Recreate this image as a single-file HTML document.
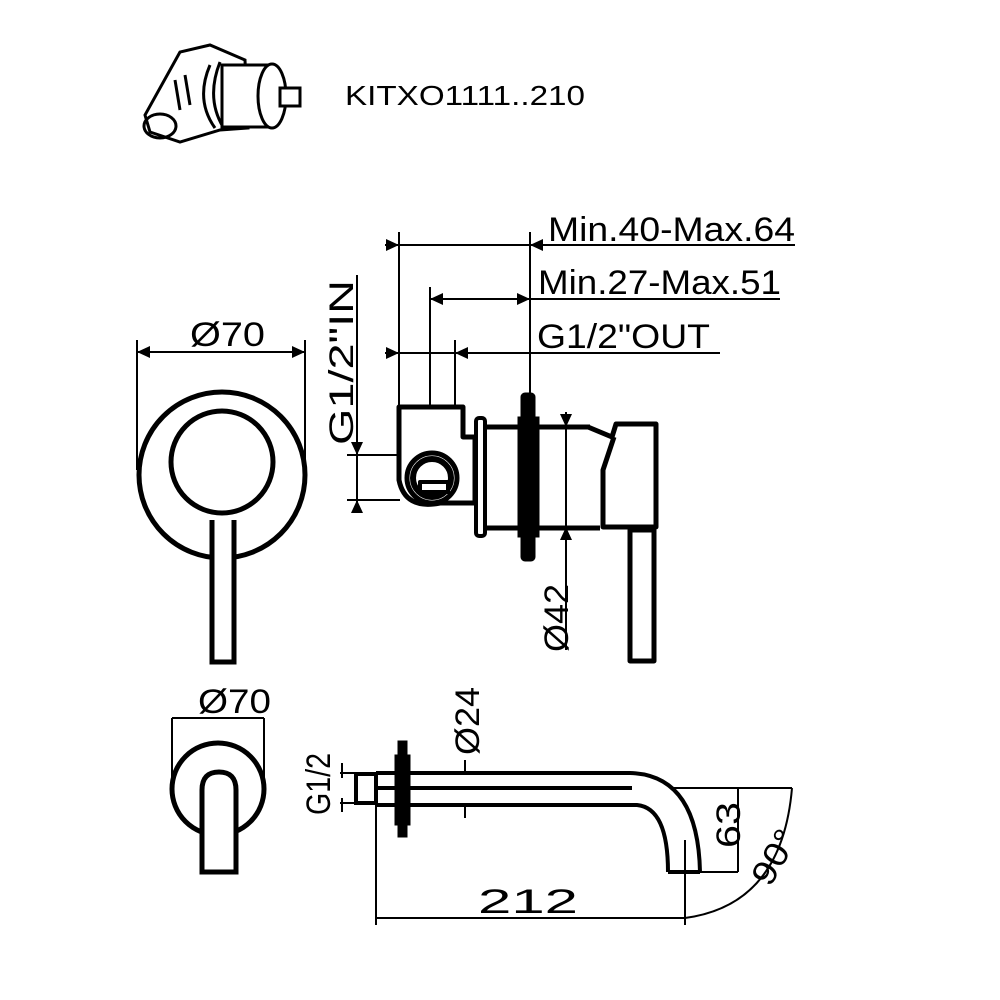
<!DOCTYPE html>
<html><head><meta charset="utf-8"><style>html,body{margin:0;padding:0;background:#fff}svg{display:block}</style></head>
<body>
<svg width="1000" height="1000" viewBox="0 0 1000 1000" xmlns="http://www.w3.org/2000/svg" font-family="Liberation Sans, sans-serif" fill="none" stroke="#000">
<!-- top icon -->
<g stroke-width="3">
<path d="M180 52 L145 115 L150 132 L180 142 L220 130 L248 128 L245 60 L210 45 Z" fill="#fff"/>
<ellipse cx="160" cy="126" rx="16" ry="12"/>
<path d="M210 65 Q195 100 215 128"/>
<path d="M220 62 Q205 100 225 130"/>
<rect x="222" y="65" width="50" height="62" fill="#fff"/>
<ellipse cx="272" cy="96" rx="14" ry="32" fill="#fff"/>
<rect x="280" y="88" width="20" height="18" fill="#fff"/>
<path d="M175 80 L180 110 M185 75 L190 105"/>
</g>
<text x="345" y="105" font-size="28" fill="#000" stroke="none" textLength="240" lengthAdjust="spacingAndGlyphs">KITXO1111..210</text>

<!-- dimension texts -->
<g fill="#000" stroke="none" font-size="34">
<text x="548" y="241" textLength="247" lengthAdjust="spacingAndGlyphs">Min.40-Max.64</text>
<text x="538" y="294" textLength="243" lengthAdjust="spacingAndGlyphs">Min.27-Max.51</text>
<text x="537" y="348" textLength="173" lengthAdjust="spacingAndGlyphs">G1/2"OUT</text>
<text x="190" y="346" textLength="75" lengthAdjust="spacingAndGlyphs">Ø70</text>
<text x="198" y="713" textLength="73" lengthAdjust="spacingAndGlyphs">Ø70</text>
<text x="478" y="913" textLength="100" lengthAdjust="spacingAndGlyphs">212</text>
<text transform="translate(353,445) rotate(-90)" textLength="165" lengthAdjust="spacingAndGlyphs">G1/2"IN</text>
<text transform="translate(568,652) rotate(-90)" textLength="68" lengthAdjust="spacingAndGlyphs">Ø42</text>
<text transform="translate(479,755) rotate(-90)" textLength="68" lengthAdjust="spacingAndGlyphs">Ø24</text>
<text transform="translate(330,815) rotate(-90)" textLength="62" lengthAdjust="spacingAndGlyphs">G1/2</text>
<text transform="translate(740,848) rotate(-90)" textLength="46" lengthAdjust="spacingAndGlyphs">63</text>
<text transform="translate(770,888) rotate(-60)" textLength="58" lengthAdjust="spacingAndGlyphs">90°</text>
</g>

<g stroke-width="2">
<line x1="385" y1="245" x2="795" y2="245"/>
<line x1="430" y1="299" x2="780" y2="299"/>
<line x1="385" y1="353" x2="720" y2="353"/>
<line x1="399" y1="232" x2="399" y2="407"/>
<line x1="430" y1="287" x2="430" y2="407"/>
<line x1="455" y1="340" x2="455" y2="407"/>
<line x1="530" y1="232" x2="530" y2="395"/>
<line x1="357" y1="275" x2="357" y2="512"/>
<line x1="347" y1="455" x2="400" y2="455"/>
<line x1="347" y1="500" x2="400" y2="500"/>
<line x1="566" y1="412" x2="566" y2="650"/>
<line x1="137" y1="352" x2="305" y2="352"/>
<line x1="137" y1="340" x2="137" y2="470"/>
<line x1="305" y1="340" x2="305" y2="470"/>
<line x1="172" y1="718" x2="264" y2="718"/>
<line x1="172" y1="718" x2="172" y2="782"/>
<line x1="264" y1="718" x2="264" y2="782"/>
<line x1="376" y1="805" x2="376" y2="925"/>
<line x1="376" y1="918" x2="685" y2="918"/>
<line x1="685" y1="840" x2="685" y2="925"/>
<line x1="670" y1="788" x2="792" y2="788"/>
<line x1="700" y1="872" x2="738" y2="872"/>
<line x1="738" y1="788" x2="738" y2="872"/>
<path d="M685 918 Q782 905 792 788"/>
<line x1="340" y1="773" x2="355" y2="773"/>
<line x1="340" y1="803" x2="355" y2="803"/>
<line x1="342" y1="763" x2="342" y2="778"/>
<line x1="342" y1="798" x2="342" y2="812"/>
<line x1="465" y1="760" x2="465" y2="773"/>
<line x1="465" y1="805" x2="465" y2="818"/>
</g>

<g fill="#000" stroke="none">
<path d="M399 245 l-13 -6 v12z"/>
<path d="M530 245 l13 -6 v12z"/>
<path d="M430 299 l13 -6 v12z"/>
<path d="M530 299 l-13 -6 v12z"/>
<path d="M399 353 l-13 -6 v12z"/>
<path d="M455 353 l13 -6 v12z"/>
<path d="M137 352 l13 -6 v12z"/>
<path d="M305 352 l-13 -6 v12z"/>
<path d="M357 455 l-6 -13 h12z"/>
<path d="M357 500 l-6 13 h12z"/>
<path d="M566 427 l-6 -13 h12z"/>
<path d="M566 527 l-6 13 h12z"/>
</g>

<g stroke-width="5">
<circle cx="222" cy="475" r="83"/>
<circle cx="222" cy="462" r="51"/>
<path d="M212 520 V662 H234 V520" fill="#fff"/>
</g>

<g stroke-width="5" stroke-linejoin="round">
<path d="M399 407 H463 V437 H475 V503 H440 Q405 510 399 480 Z" fill="#fff"/>
<circle cx="432" cy="478" r="25"/>
<circle cx="432" cy="478" r="19" stroke-width="6"/>
<rect x="420" y="482" width="28" height="10" fill="#fff" stroke-width="4"/>
<rect x="476" y="418" width="9" height="118" rx="3" fill="#fff" stroke-width="4"/>
<path d="M485 427 H590 M485 528 H600"/>
<path d="M588 427 L612 437 L616 424 H656 V527 H603 V470 L614 437"/>
<rect x="630" y="530" width="24" height="131" fill="#fff"/>
</g>
<rect x="521" y="393" width="14" height="168" rx="4" fill="#000"/>
<rect x="518" y="417" width="21" height="120" fill="#000"/>

<g stroke-width="5">
<circle cx="218" cy="789" r="46"/>
<path d="M202 872 V790 Q202 772 219 772 Q236 772 236 790 V872 Z" fill="#fff"/>
</g>

<g stroke-width="4">
<rect x="356" y="774" width="20" height="29" fill="#fff"/>
<path d="M376 773 H630 Q698 775 700 872"/>
<path d="M376 805 H637 Q668 808 668 872"/>
<line x1="376" y1="788" x2="632" y2="788"/>
<line x1="668" y1="872" x2="700" y2="872"/>
</g>
<rect x="398" y="741" width="9" height="96" fill="#000"/>
<rect x="395" y="755" width="15" height="70" fill="#000"/>
</svg>
</body></html>
